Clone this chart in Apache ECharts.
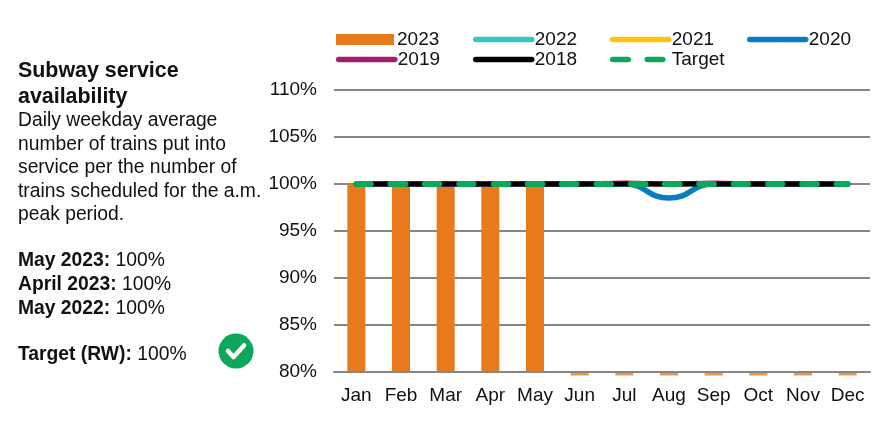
<!DOCTYPE html>
<html><head><meta charset="utf-8">
<script src="https://cdn.jsdelivr.net/npm/echarts@6/dist/echarts.min.js"></script>
<style>html,body{margin:0;padding:0;background:#fff}#c{width:880px;height:427px}</style>
</head><body><div id="c"></div>
<script>
const months = ['Jan','Feb','Mar','Apr','May','Jun','Jul','Aug','Sep','Oct','Nov','Dec'];
const v2023 = [100,100,100,100,100,0,0,0,0,0,0,0];
const v2023Floor = [null,null,null,null,null,80,80,80,80,80,80,80];
const v2022 = [100,100,100,100,100,100,100,100,100,100,100,100];
const v2021 = [100,100,100,100,100,100,100,100,100,100,100,100];
const v2020 = [100,100,100,100,100,100,100,98.5,100,100,100,100];
const v2019 = [100,100,100,100,100,100,100.1,100,100.1,100,100,100];
const v2018 = [100,100,100,100,100,100,100,100,100,100,100,100];
const target = [100,100,100,100,100,100,100,100,100,100,100,100];
const yTicks = {min:80,max:110,interval:5};
const F = 'Liberation Sans, Arial, sans-serif';
const TXT = '#111111';

function line(name,data,color,width,extra){
  return Object.assign({type:'line',name,data,smooth:0.5,symbol:'none',
    lineStyle:{color,width,cap:'round'},itemStyle:{color}},extra||{});
}
const legendAt = [
  ['2023',336,30],['2022',473,30],['2021',610,30],['2020',747,30],
  ['2019',336,50],['2018',473,50],['Target',610,50]
];
const textLines = [
  ['Subway service',18,72,true,21.4],['availability',18,98,true,21.4],
  ['Daily weekday average',18,122,false,19.3],['number of trains put into',18,146,false,19.3],
  ['service per the number of',18,169,false,19.3],['trains scheduled for the a.m.',18,193,false,19.3],
  ['peak period.',18,216,false,19.3]
];
const kv = [['May 2023: ','100%',261],['April 2023: ','100%',285],['May 2022: ','100%',309],['Target (RW): ','100%',355]];
const graphic = textLines.map(t=>({type:'text',left:t[1],top:t[2]-11,style:{text:t[0],font:(t[3]?'bold ':'')+t[4]+'px '+F,fill:TXT}}));
kv.forEach(k=>graphic.push({type:'text',left:18,top:k[2]-10,style:{
  text:'{b|'+k[0]+'}{n|'+k[1]+'}',rich:{b:{font:'bold 19.3px '+F,fill:TXT},n:{font:'19.3px '+F,fill:TXT}}}}));
graphic.push({type:'circle',shape:{cx:236,cy:351,r:17.5},style:{fill:'#0BA75A'}});
graphic.push({type:'polyline',shape:{points:[[228,351],[233.5,357],[244,345.5]]},style:{stroke:'#fff',lineWidth:4.5,fill:null,lineCap:'round',lineJoin:'round'}});

const chart = echarts.init(document.getElementById('c'),null,{renderer:'canvas'});
chart.setOption({
  animation:false,
  backgroundColor:'#fff',
  textStyle:{fontFamily:F},
  grid:{left:334,top:90,width:536,height:282},
  legend:legendAt.map(l=>{
    const isBar = l[0]==='2023', isT = l[0]==='Target';
    return {
      data:[isBar?{name:l[0],icon:'rect'}:l[0]],
      left:l[1],top:l[2],padding:0,itemWidth:isBar?58:56,itemHeight:isBar?11:5,itemGap:0,selectedMode:false,
      itemStyle:isT?{color:'transparent',borderWidth:0}:{},
      lineStyle:isT?{width:5.5,type:[15.5,19],cap:'round'}:{width:5.5,cap:'round'},
      textStyle:{fontSize:19,color:TXT,fontFamily:F,padding:[2,0,0,-2]}
    };
  }),
  xAxis:{type:'category',data:months,z:5,
    axisLine:{show:true,lineStyle:{color:'#868686',width:2}},axisTick:{show:false},
    axisLabel:{fontSize:19,color:TXT,margin:14,fontFamily:F,interval:0}},
  yAxis:{type:'value',min:yTicks.min,max:yTicks.max,interval:yTicks.interval,
    axisLine:{show:false},axisTick:{show:false},
    axisLabel:{fontSize:19,color:TXT,margin:17,formatter:'{value}%',fontFamily:F},
    splitLine:{lineStyle:{color:'#868686',width:2}}},
  series:[
    {type:'bar',name:'2023',data:v2023,barWidth:18,itemStyle:{color:'#E87A1B'}},
    {type:'scatter',name:'2023',data:v2023Floor,clip:false,symbol:'rect',symbolSize:[18,4],symbolOffset:[0,1.5],
      itemStyle:{color:'#E87A1B'},z:2},
    line('2022',v2022,'#33C7C7',5),
    line('2021',v2021,'#FFC20E',5),
    line('2020',v2020,'#0A7CC1',5.5),
    line('2019',v2019,'#A01E6E',5),
    line('2018',v2018,'#000000',5),
    line('Target',target,'#0BA75A',6,{lineStyle:{color:'#0BA75A',width:6,type:[14.5,19.8],cap:'round'}})
  ],
  graphic
});
</script></body></html>
